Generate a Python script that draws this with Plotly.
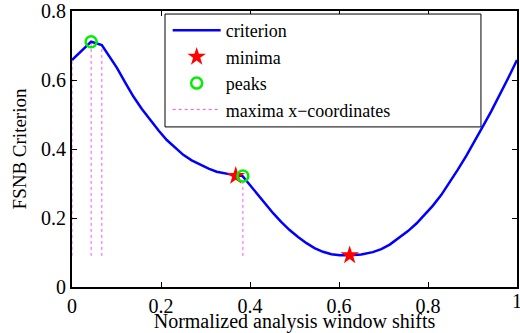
import plotly.graph_objects as go

curve_x = [0, 0.043, 0.067, 0.084, 0.101, 0.12, 0.138, 0.157, 0.176, 0.195, 0.213, 0.232, 0.250,
           0.269, 0.288, 0.307, 0.325, 0.344, 0.362, 0.383,
           0.40, 0.415, 0.433, 0.452, 0.47, 0.489, 0.508, 0.527, 0.545, 0.564, 0.583, 0.602,
           0.624, 0.65, 0.676, 0.695, 0.714, 0.736, 0.755, 0.774, 0.792, 0.811, 0.83,
           0.848, 0.867, 0.886, 0.905, 0.923, 0.942, 0.961, 0.98, 1.0]
curve_y = [0.658, 0.711, 0.701, 0.669, 0.635, 0.592, 0.552, 0.516, 0.484, 0.453, 0.426, 0.403, 0.383,
           0.367, 0.354, 0.343, 0.334, 0.329, 0.325, 0.322,
           0.295, 0.272, 0.242, 0.214, 0.189, 0.165, 0.145, 0.127, 0.113, 0.102, 0.095, 0.092,
           0.092, 0.094, 0.101, 0.11, 0.123, 0.143, 0.162, 0.184, 0.209, 0.236, 0.267,
           0.301, 0.34, 0.38, 0.422, 0.465, 0.509, 0.555, 0.605, 0.658]

minima_x = [0.368, 0.624]
minima_y = [0.322, 0.092]

peaks_x = [0.043, 0.384]
peaks_y = [0.711, 0.322]

maxima_x = [0.0, 0.043, 0.067, 0.384]
maxima_top = [0.658, 0.711, 0.70, 0.31]
maxima_bottom = 0.09

x_ticks = [0, 0.2, 0.4, 0.6, 0.8]
x_tick_text = ["0", "0.2", "0.4", "0.6", "0.8"]
y_ticks = [0, 0.2, 0.4, 0.6, 0.8]
y_tick_text = ["0", "0.2", "0.4", "0.6", "0.8"]

vx, vy = [], []
for xv, top in zip(maxima_x, maxima_top):
    vx += [xv, xv, None]
    vy += [maxima_bottom, top, None]

font = "Liberation Serif"
pink = "#ff55ff"

fig = go.Figure()
fig.add_trace(go.Scatter(x=vx, y=vy, mode="lines", name="maxima x\u2212coordinates",
                         line=dict(color=pink, width=1, dash="dot"), showlegend=False))
fig.add_trace(go.Scatter(x=curve_x, y=curve_y, mode="lines", name="criterion",
                         line=dict(color="#0000ff", width=2.5)))
fig.add_trace(go.Scatter(x=minima_x, y=minima_y, mode="markers", name="minima",
                         marker=dict(symbol="star", color="#ff0000", size=14,
                                     line=dict(width=0))))
fig.add_trace(go.Scatter(x=peaks_x, y=peaks_y, mode="markers", name="peaks",
                         marker=dict(symbol="circle-open", color="#00ee00", size=11,
                                     line=dict(width=2.5, color="#00ee00"))))
fig.add_trace(go.Scatter(x=[None], y=[None], mode="lines", name="maxima x\u2212coordinates",
                         line=dict(color=pink, width=1, dash="dot")))

# legend frame (wider than plotly's own box, as in the reference)
fig.add_shape(type="rect", xref="paper", yref="paper", x0=0.209, x1=0.919, y0=0.58, y1=0.989,
              line=dict(color="black", width=1), fillcolor="white", layer="above")

# last x tick label, partly cut by the page edge as in the reference
fig.add_annotation(x=1, xref="x", y=0, yref="paper", yanchor="top", yshift=-1,
                   text="1", showarrow=False, font=dict(family=font, size=20))

fig.update_layout(
    width=520, height=333,
    margin=dict(l=72, r=3, t=11, b=46),
    paper_bgcolor="white", plot_bgcolor="white",
    font=dict(family=font, size=20, color="black"),
    legend=dict(x=0.215, y=0.996, xanchor="left", yanchor="top",
                bgcolor="rgba(0,0,0,0)", borderwidth=0,
                font=dict(family=font, size=18), tracegroupgap=0,
                itemwidth=48),
    xaxis=dict(range=[0, 1], tickvals=x_ticks, ticktext=x_tick_text,
               ticks="inside", ticklen=5, tickcolor="black",
               showline=True, linecolor="black", linewidth=2, mirror="ticks",
               showgrid=False, zeroline=False, automargin=False,
               title=dict(text="Normalized analysis window shifts", standoff=0,
                          font=dict(size=20))),
    yaxis=dict(range=[0, 0.8], tickvals=y_ticks, ticktext=y_tick_text,
               ticks="inside", ticklen=5, tickcolor="black",
               showline=True, linecolor="black", linewidth=2, mirror="ticks",
               showgrid=False, zeroline=False, automargin=False,
               title=dict(text="FSNB Criterion", standoff=9, font=dict(size=19))),
)

fig.write_html("out.html", config={"displayModeBar": False},
               post_script="document.body.style.margin='0';document.body.style.overflow='hidden';")
